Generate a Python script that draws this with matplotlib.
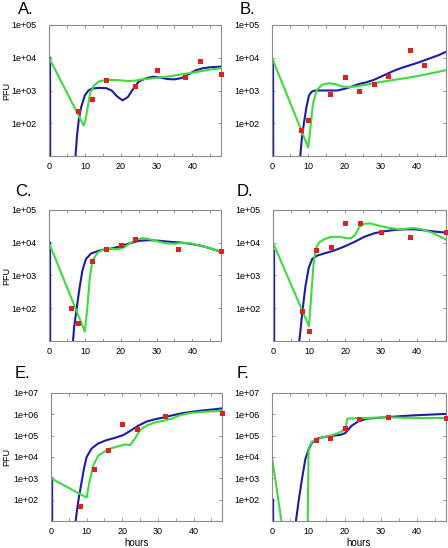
import numpy as np
import matplotlib
matplotlib.use("Agg")
import matplotlib.pyplot as plt

plt.rcParams['font.family'] = ['Liberation Sans', 'DejaVu Sans']

# ---------------- data (log10 PFU) ----------------
# Panel A
red_A_t = [8, 12, 16, 24, 30, 38, 42, 48]
red_A_log = [2.37, 2.73, 3.31, 3.14, 3.63, 3.40, 3.91, 3.50]
blue_A_t = [0.3, 0.35, 7.0, 7.4, 7.8, 8.3, 9, 10, 11, 12, 14, 16, 17.5, 19, 20.5, 22, 23.5,
            25, 27, 29, 31, 33, 35, 37, 39, 41, 43, 45, 48]
blue_A_log = [4.0, 0, 0, 1.0, 1.6, 2.1, 2.5, 2.85, 3.0, 3.06, 3.08, 3.07, 3.0, 2.82, 2.7,
              2.8, 3.05, 3.27, 3.37, 3.42, 3.40, 3.35, 3.34, 3.38, 3.50, 3.62, 3.68, 3.71, 3.73]
green_A_t = [0, 9.7, 10.2, 10.8, 11.5, 12.5, 14, 16, 19, 22, 24, 26, 28, 31, 34, 38, 42, 45, 48]
green_A_log = [4.0, 1.93, 2.1, 2.5, 2.92, 3.15, 3.28, 3.32, 3.32, 3.29, 3.3, 3.34, 3.36,
               3.40, 3.44, 3.51, 3.58, 3.64, 3.68]

# Panel B
red_B_t = [8, 10, 16, 20, 24, 28, 32, 38, 42]
red_B_log = [1.79, 2.10, 2.90, 3.41, 3.00, 3.20, 3.45, 4.25, 3.77]
blue_B_t = [0.3, 0.35, 7.4, 7.8, 8.2, 8.8, 9.5, 10.2, 11, 12, 14, 16, 18, 20, 22, 24, 26, 28,
            30, 32, 34, 36, 38, 40, 42, 44, 46, 48]
blue_B_log = [3.9, 0, 0, 1.0, 1.5, 2.0, 2.49, 2.85, 2.97, 3.0, 3.0, 3.0, 3.0, 3.05, 3.12,
              3.2, 3.25, 3.32, 3.42, 3.52, 3.62, 3.7, 3.77, 3.84, 3.92, 4.0, 4.08, 4.18]
green_B_t = [0, 10, 10.6, 11.3, 12.3, 13.7, 15.5, 17.4, 19.3, 21.6, 24, 27, 30, 34, 38, 42,
             45, 48]
green_B_log = [4.0, 1.26, 1.87, 2.59, 3.0, 3.17, 3.22, 3.2, 3.12, 3.1, 3.14, 3.2, 3.26,
               3.33, 3.4, 3.48, 3.55, 3.62]

# Panel C
red_C_t = [6, 8, 12, 16, 20, 24, 36, 48]
red_C_log = [2.00, 1.56, 3.43, 3.81, 3.93, 4.11, 3.81, 3.76]
blue_C_t = [0.3, 0.35, 6.3, 6.7, 7.0, 7.5, 8.4, 9.3, 10.3, 11.7, 14, 16.8, 19.6, 22.4, 25.2,
            28, 30.8, 33.6, 36.4, 39.3, 42, 45, 48]
blue_C_log = [4.0, 0, 0, 1.0, 1.4, 1.82, 2.53, 3.14, 3.5, 3.67, 3.76, 3.81, 3.88, 3.98,
              4.06, 4.08, 4.06, 4.03, 4.01, 3.97, 3.92, 3.83, 3.72]
green_C_t = [0, 10, 10.7, 11.4, 12.1, 13.6, 15.4, 17.3, 19.2, 21, 22.9, 24.8, 26.2, 28,
             30.4, 32.7, 35, 37.4, 39.7, 42, 44.9, 48]
green_C_log = [4.0, 1.29, 2.02, 2.94, 3.45, 3.70, 3.81, 3.82, 3.80, 3.86, 4.01, 4.11, 4.14,
               4.11, 4.04, 3.98, 3.97, 4.0, 3.98, 3.91, 3.84, 3.73]

# Panel D
red_D_t = [8, 10, 12, 16, 20, 24, 30, 38, 48]
red_D_log = [1.92, 1.30, 3.78, 3.86, 4.59, 4.61, 4.33, 4.18, 4.33]
blue_D_t = [0.3, 0.35, 7.0, 7.3, 7.7, 8.1, 9, 9.9, 10.9, 12.3, 14.1, 16.9, 19.7, 22.5, 25.3,
            28.1, 30.9, 33.7, 36.5, 39.3, 42, 45, 48]
blue_D_log = [3.75, 0, 0, 1.0, 1.4, 1.86, 2.67, 3.23, 3.51, 3.61, 3.67, 3.76, 3.88, 4.02,
              4.18, 4.29, 4.35, 4.39, 4.41, 4.41, 4.38, 4.34, 4.31]
green_D_t = [0, 10, 10.6, 11.2, 11.8, 12.7, 14.1, 16, 18.4, 20.3, 21.7, 22.9, 24, 25.4, 26.8,
             29.1, 31.9, 34.8, 37.1, 39, 41.3, 44.1, 48]
green_D_log = [4.0, 1.45, 2.37, 3.29, 3.8, 4.0, 4.1, 4.18, 4.18, 4.14, 4.14, 4.26, 4.49,
               4.58, 4.59, 4.53, 4.46, 4.41, 4.43, 4.45, 4.41, 4.31, 4.10]

# Panel E
red_E_t = [8, 12, 16, 20, 24, 32, 48]
red_E_log = [1.70, 3.42, 4.31, 5.53, 5.32, 5.92, 6.05]
blue_E_t = [0.3, 0.35, 6.6, 6.9, 7.3, 7.7, 8.6, 9.3, 10, 11.4, 13.3, 15.6, 18, 20.3, 22.2,
            24.5, 26.8, 29.2, 31.5, 34, 37, 40, 43, 46, 48]
blue_E_log = [3.0, 0, 0, 1.0, 1.5, 1.97, 2.84, 3.5, 4.0, 4.4, 4.64, 4.79, 4.9, 5.03, 5.22,
              5.47, 5.66, 5.77, 5.85, 5.95, 6.06, 6.13, 6.19, 6.24, 6.28]
green_E_t = [0, 10, 10.8, 11.9, 13.3, 16, 18.4, 20.8, 22.2, 23.6, 25, 26.8, 29.2, 31.5, 34,
             36.2, 39, 42.8, 46.5, 48]
green_E_log = [3.0, 2.1, 2.84, 3.62, 4.07, 4.36, 4.48, 4.59, 4.56, 4.87, 5.26, 5.47, 5.62,
               5.7, 5.8, 5.96, 6.06, 6.12, 6.15, 6.16]

# Panel F
red_F_t = [12, 16, 20, 24, 32, 48]
red_F_log = [4.78, 4.89, 5.37, 5.80, 5.87, 5.84]
blue_F_t = [0.3, 0.35, 6.3, 6.6, 7.4, 8.3, 9.2, 10.1, 11, 12.4, 14.2, 16.9, 18.7, 20.2, 22,
            23.8, 26.2, 28.9, 32, 36, 40, 44, 48]
blue_F_log = [2.0, 0, 0, 1.0, 2.0, 3.0, 3.9, 4.35, 4.66, 4.86, 4.93, 5.0, 5.03, 5.12, 5.47,
              5.67, 5.8, 5.83, 5.87, 5.92, 5.96, 5.99, 6.02]
green_F_t = [0, 2.6, 3.0, 9.8, 9.85, 10.1, 11, 12, 14.2, 16.9, 19.3, 20.4, 20.8, 24, 28, 32,
             36, 40, 44, 48]
green_F_log = [4.0, 1.0, 0, 0, 1.0, 4.42, 4.72, 4.8, 4.93, 5.04, 5.2, 5.44, 5.8, 5.82, 5.84,
               5.86, 5.84, 5.83, 5.83, 5.83]

x_ticks = list(range(0, 46, 5))
x_labels = ['0', '', '10', '', '20', '', '30', '', '40', '']
y_labels_small = ['1e+02', '1e+03', '1e+04', '1e+05']
y_labels_big = ['1e+02', '1e+03', '1e+04', '1e+05', '1e+06', '1e+07']

panels = [
    ('A.', red_A_t, red_A_log, blue_A_t, blue_A_log, green_A_t, green_A_log, y_labels_small),
    ('B.', red_B_t, red_B_log, blue_B_t, blue_B_log, green_B_t, green_B_log, y_labels_small),
    ('C.', red_C_t, red_C_log, blue_C_t, blue_C_log, green_C_t, green_C_log, y_labels_small),
    ('D.', red_D_t, red_D_log, blue_D_t, blue_D_log, green_D_t, green_D_log, y_labels_small),
    ('E.', red_E_t, red_E_log, blue_E_t, blue_E_log, green_E_t, green_E_log, y_labels_big),
    ('F.', red_F_t, red_F_log, blue_F_t, blue_F_log, green_F_t, green_F_log, y_labels_big),
]

# ---------------- layout (pixel boxes) ----------------
W, H = 448, 548
boxes = [(49, 221, 25, 156), (272, 446, 25, 156),
         (49, 221, 210, 341), (273, 446, 210, 341),
         (51, 222, 393, 521), (272, 446, 393, 521)]
letter_pos = [(18, 2), (240, 2), (15, 184), (237, 184), (15, 366), (237, 366)]

fig = plt.figure(figsize=(W / 100, H / 100), dpi=100)
fig.patch.set_facecolor('white')

BLUE = '#1c1ca6'
GREEN = '#3cdc3c'
RED = '#dd2020'
SPINE = '#8c8c8c'

for i, (letter, rt, rl, bt, bl, gt, gl, ylabs) in enumerate(panels):
    l, r, t, b = boxes[i]
    ax = fig.add_axes([l / W, 1 - b / H, (r - l) / W, (b - t) / H])
    ax.set_yscale('log')
    top_exp = 1 + len(ylabs)
    ax.set_ylim(10, 10 ** top_exp)
    ax.set_xlim(0, 48)

    ax.plot(bt, 10 ** np.array(bl, dtype=float), color=BLUE, lw=1.5, zorder=2)
    ax.plot(gt, 10 ** np.array(gl, dtype=float), color=GREEN, lw=1.5, zorder=2.5)
    ax.plot(rt, 10 ** np.array(rl, dtype=float), ls='none', marker='s', ms=3.6,
            mfc=RED, mec=RED, mew=0, clip_on=False, zorder=4)

    ax.set_xticks(x_ticks)
    ax.set_xticklabels(x_labels)
    ax.set_yticks([10 ** k for k in range(2, top_exp + 1)])
    ax.set_yticklabels(ylabs)
    ax.yaxis.set_minor_locator(matplotlib.ticker.NullLocator())
    ax.tick_params(axis='both', which='both', direction='in', length=2.5, width=0.6,
                   color=SPINE, top=True, right=True, labelsize=6.5)
    ax.tick_params(axis='y', pad=9)
    ax.tick_params(axis='x', pad=4)
    for sp in ax.spines.values():
        sp.set_color(SPINE)
        sp.set_linewidth(0.8)

    if i % 2 == 0:
        ax.set_ylabel('PFU', fontsize=6.5)
        ax.yaxis.set_label_coords((11 - l) / (r - l), 0.5)
    if i >= 4:
        ax.set_xlabel('hours', fontsize=7, labelpad=2)

    lx, ly = letter_pos[i]
    fig.text(lx / W, 1 - ly / H, letter, fontsize=12, ha='left', va='top')

fig.savefig('out.png', dpi=100, facecolor='white')
